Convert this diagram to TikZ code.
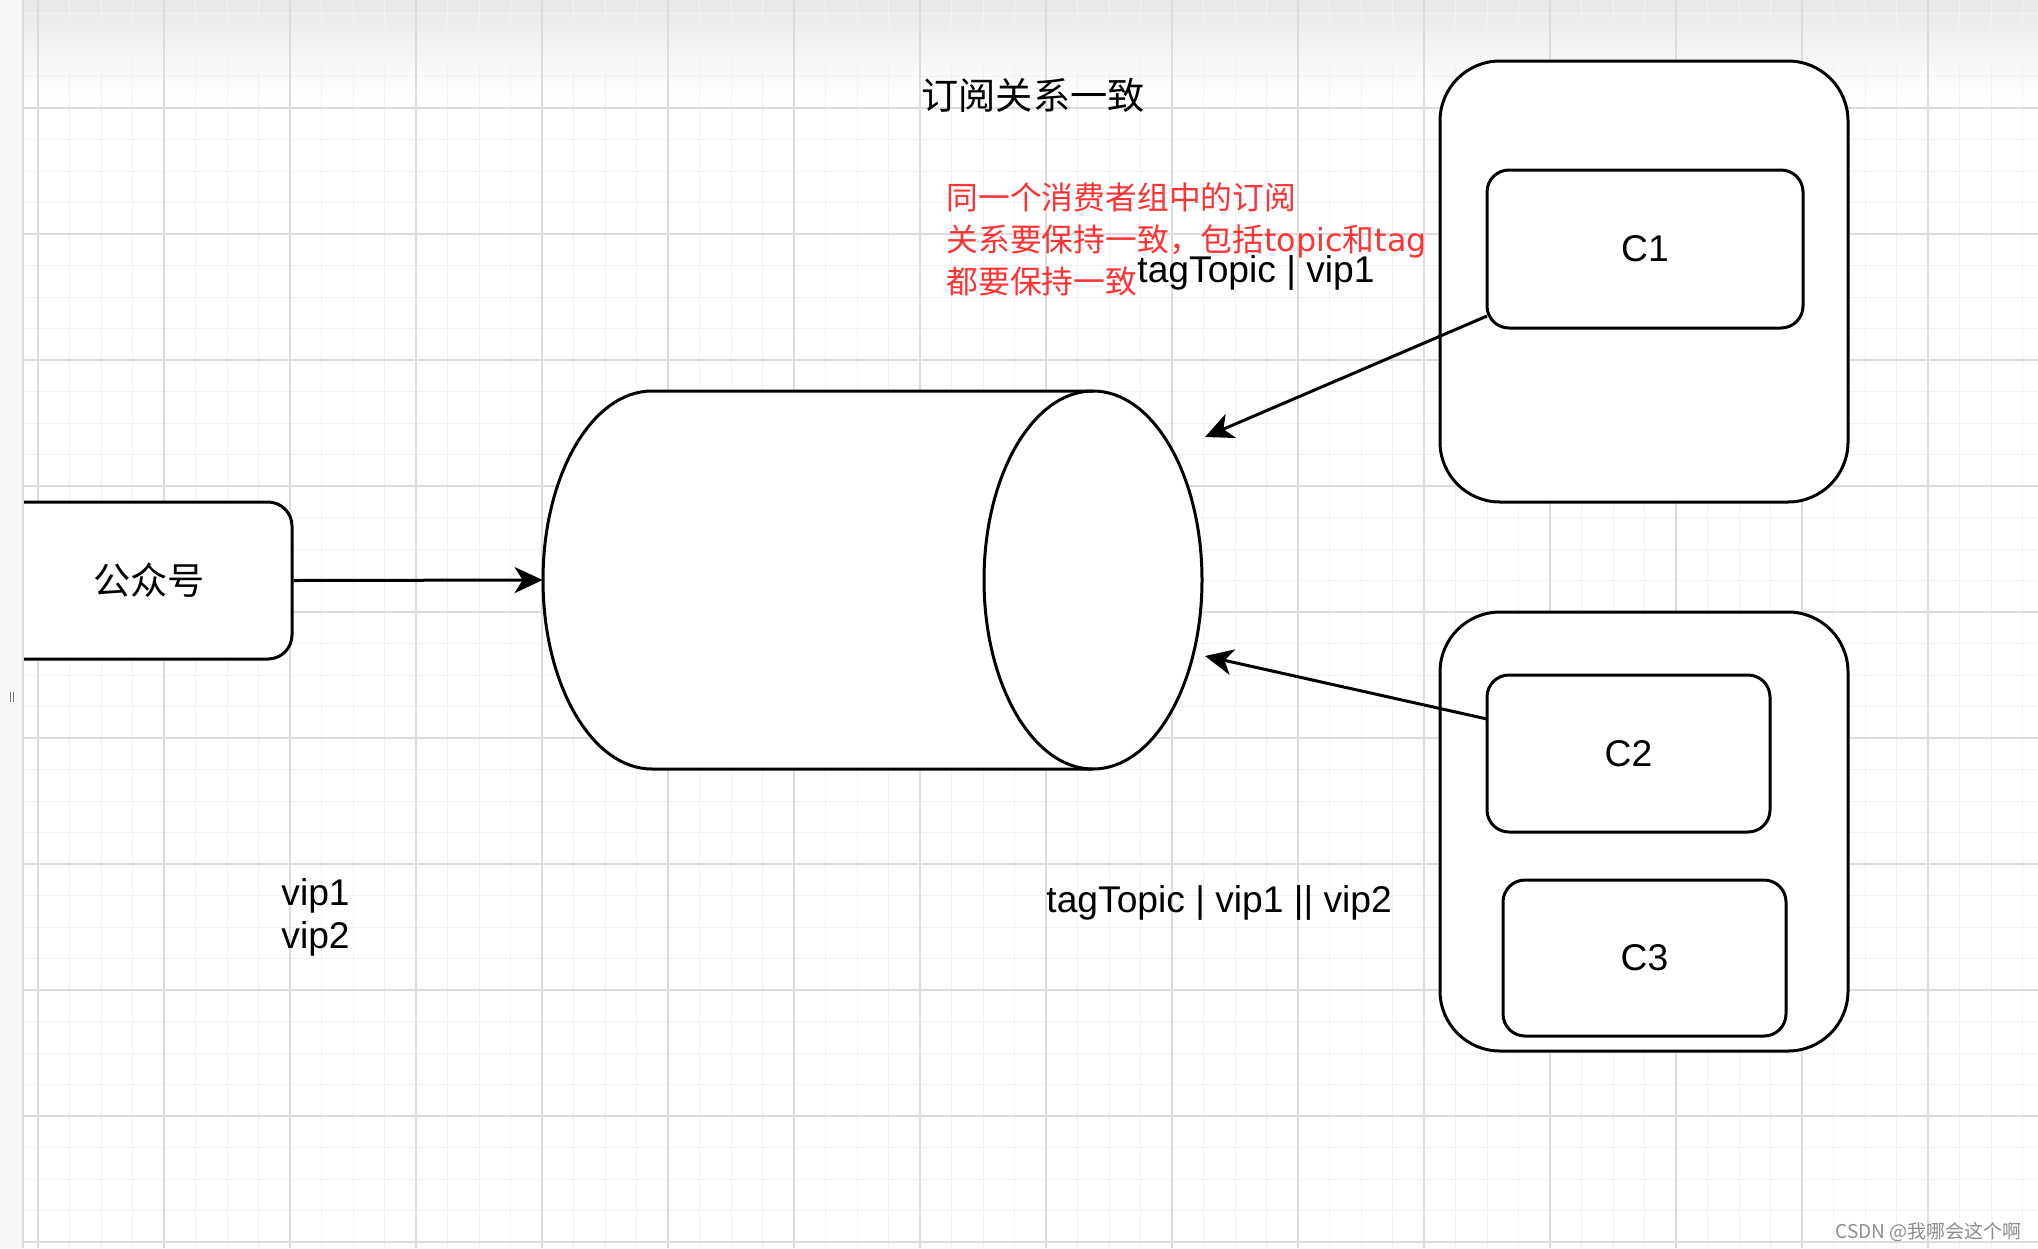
\documentclass[tikz,border=0pt]{standalone}
\usepackage{fontspec}
\setmainfont{Liberation Sans}
\newfontfamily\cjk{Noto Sans CJK SC}
\newfontfamily\djv{DejaVu Sans}
\usetikzlibrary{arrows.meta,calc}
\definecolor{redtxt}{HTML}{FF3333}
\definecolor{gmajor}{HTML}{DCDCDC}
\definecolor{gminor}{HTML}{F2F2F2}
\definecolor{wm}{HTML}{8C8C8C}
\newcommand\blkfont{\fontsize{18.6pt}{22pt}\selectfont}
\newcommand\redfont{\fontsize{15.9pt}{20pt}\selectfont}
\begin{document}
\begin{tikzpicture}[x=0.5pt,y=-0.5pt,
  rbox/.style={draw, line width=1.5pt, fill=white, rectangle, inner sep=0pt, font=\blkfont},
  arr/.style={line width=1.5pt, -{Stealth[length=14pt,width=13pt,inset=4pt]}},
  lbl/.style={inner sep=0pt, font=\blkfont},
  redlbl/.style={inner sep=0pt, anchor=base west, text=redtxt, font=\redfont\cjk},
]
\useasboundingbox (0,0) rectangle (2038,1248);
\clip (0,0) rectangle (2038,1248);
% background
\fill[white] (0,0) rectangle (2038,1248);
\shade[top color=black!9, bottom color=white] (0,0) rectangle (2038,100);
% grid
\foreach \j in {0,...,63} \draw[gminor, line width=0.5pt] ({38+31.5*\j},0) -- ({38+31.5*\j},1248);
\foreach \j in {-3,...,36} \draw[gminor, line width=0.5pt] (23,{108+31.5*\j}) -- (2038,{108+31.5*\j});
\foreach \j in {0,...,15} \draw[gmajor, line width=1pt] ({38+126*\j},0) -- ({38+126*\j},1248);
\foreach \j in {0,...,9} \draw[gmajor, line width=1pt] (23,{108+126*\j}) -- (2038,{108+126*\j});

% source box
\node[rbox, rounded corners=12pt, minimum width=176pt, minimum height=78.5pt, font=\blkfont\cjk] (pub) at (116,580.5) {\hspace*{33pt}公众号};

% left ruler
\fill[black!3] (0,0) rectangle (23,1248);
\draw[gmajor, line width=1pt] (23,0) -- (23,1248);
\draw[black!55, line width=0.5pt] (10,692) -- (10,702) (13,692) -- (13,702);

% cylinder (horizontal)
\node[inner sep=0pt, minimum width=329.5pt, minimum height=189pt] (cyl) at (872.5,580) {};
\fill[white] (652,391) -- (1093,391) arc[start angle=-90, end angle=90, x radius=109, y radius=189]
  -- (652,769) arc[start angle=90, end angle=270, x radius=109, y radius=189] -- cycle;
\draw[line width=1.5pt, line join=round] (1093,391) -- (652,391)
  arc[start angle=270, end angle=90, x radius=109, y radius=189] -- (1093,769);
\draw[line width=1.5pt] (1093,580) ellipse[x radius=109, y radius=189];

% consumer groups
\node[rbox, rounded corners=30pt, minimum width=204pt, minimum height=220.5pt] (g1) at (1644,281.5) {};
\node[rbox, rounded corners=30pt, minimum width=204pt, minimum height=219.5pt] (g2) at (1644,831.5) {};
\node[rbox, rounded corners=11pt, minimum width=158pt, minimum height=79pt] (c1) at (1645,249) {C1};
\node[rbox, rounded corners=11pt, minimum width=141.5pt, minimum height=78.5pt] (c2) at (1628.5,753.5) {C2};
\node[rbox, rounded corners=11pt, minimum width=141.5pt, minimum height=78pt] (c3) at (1644.5,958) {C3};

% texts
\node[lbl, font=\blkfont\cjk] (title) at (1033,95) {订阅关系一致};
\node[redlbl] (r1) at (946,209) {同一个消费者组中的订阅};
\node[redlbl] (r2) at (946,251) {关系要保持一致，包括{\djv topic}和{\djv tag}};
\node[redlbl] (r3) at (946,293) {都要保持一致};
\node[lbl, anchor=base west] (tv1) at (1137,282) {tagTopic | vip1};
\node[lbl, anchor=base west] (tv2) at (1046,912) {tagTopic | vip1 || vip2};
\node[lbl, anchor=base west] (v1) at (281,905) {vip1};
\node[lbl, anchor=base west] (v2) at (281,948) {vip2};
\node[inner sep=0pt, anchor=base east, text=wm, font=\fontsize{9.5pt}{11pt}\selectfont\cjk] (wmk) at (2022,1238) {CSDN @我哪会这个啊};

% connectors
\coordinate (s1) at (1487,316);
\coordinate (t1) at (1205,437);
\coordinate (s2) at (1487,719);
\coordinate (t2) at (1205,656);
\draw[arr] (pub.east) -- (cyl.west);
\draw[arr] (s1) -- (t1);
\draw[arr] (s2) -- (t2);
\end{tikzpicture}
\end{document}
